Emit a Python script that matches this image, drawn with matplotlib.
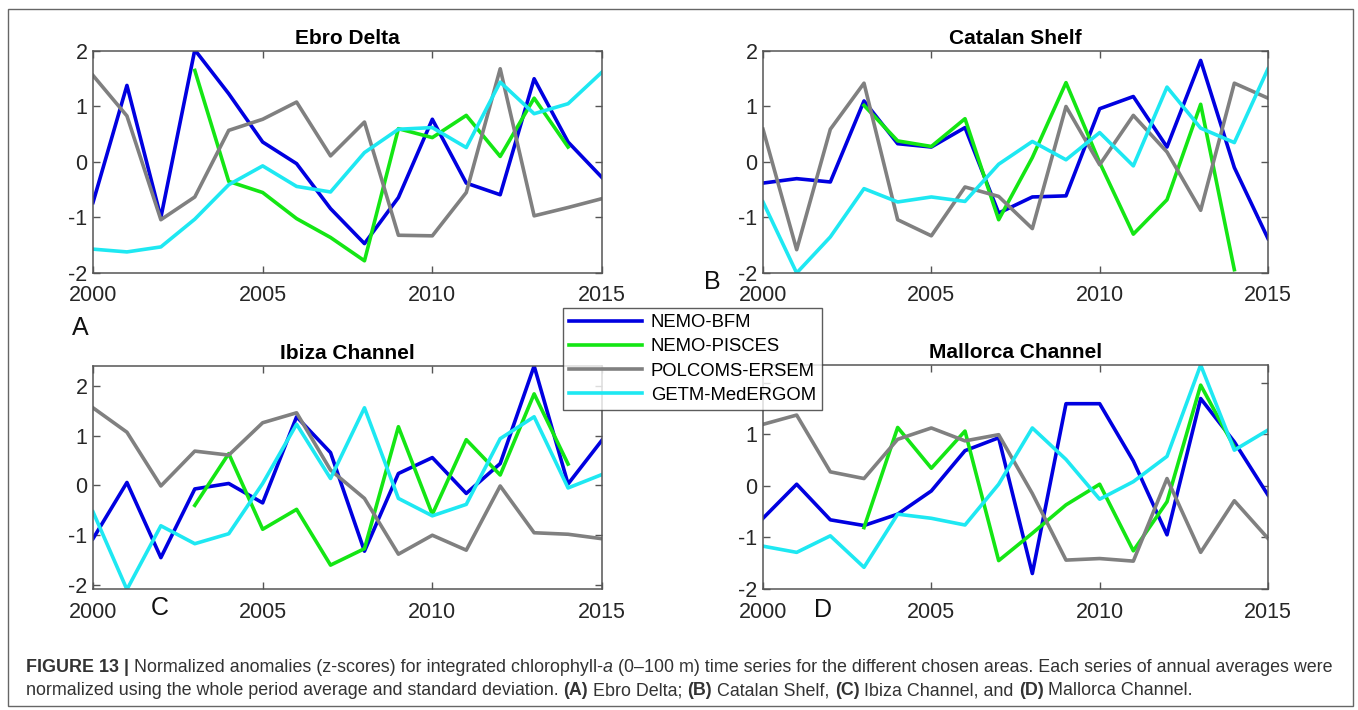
import matplotlib
matplotlib.use('Agg')
import matplotlib.pyplot as plt
from matplotlib import font_manager
from matplotlib.patches import Rectangle
import numpy as np

years = list(range(2000, 2016))
pisces_years = list(range(2003, 2015))

models = ['NEMO-BFM', 'NEMO-PISCES', 'POLCOMS-ERSEM', 'GETM-MedERGOM']
colors = ['#0000e0', '#14e614', '#808080', '#1ee8f2']

# Ebro Delta
ebro_bfm = [-0.73, 1.38, -1.0, 2.02, 1.23, 0.36, -0.03, -0.84, -1.47, -0.64, 0.77, -0.38, -0.59, 1.5, 0.36, -0.28]
ebro_pisces = [1.65, -0.35, -0.55, -1.02, -1.36, -1.78, 0.6, 0.44, 0.84, 0.1, 1.15, 0.27]
ebro_ersem = [1.56, 0.83, -1.04, -0.63, 0.57, 0.77, 1.08, 0.11, 0.72, -1.32, -1.33, -0.55, 1.68, -0.97, -0.82, -0.66]
ebro_ergom = [-1.57, -1.62, -1.53, -1.03, -0.41, -0.07, -0.44, -0.54, 0.17, 0.59, 0.62, 0.26, 1.44, 0.87, 1.05, 1.62]

# Catalan Shelf
catalan_bfm = [-0.38, -0.30, -0.36, 1.10, 0.33, 0.27, 0.62, -0.92, -0.63, -0.61, 0.96, 1.18, 0.27, 1.83, -0.10, -1.38]
catalan_pisces = [1.02, 0.38, 0.28, 0.78, -1.04, 0.08, 1.43, -0.01, -1.30, -0.68, 1.04, -1.94]
catalan_ersem = [0.59, -1.58, 0.59, 1.42, -1.04, -1.33, -0.45, -0.62, -1.2, 1.0, -0.05, 0.84, 0.18, -0.87, 1.42, 1.15]
catalan_ergom = [-0.72, -2.0, -1.35, -0.48, -0.72, -0.63, -0.71, -0.04, 0.37, 0.04, 0.53, -0.07, 1.35, 0.61, 0.35, 1.68]

# Ibiza Channel
ibiza_bfm = [-1.07, 0.06, -1.45, -0.07, 0.04, -0.35, 1.38, 0.66, -1.32, 0.24, 0.56, -0.16, 0.44, 2.4, 0.03, 0.91]
ibiza_pisces = [-0.40, 0.64, -0.88, -0.48, -1.60, -1.27, 1.18, -0.58, 0.92, 0.21, 1.84, 0.43]
ibiza_ersem = [1.56, 1.07, -0.01, 0.69, 0.61, 1.26, 1.46, 0.31, -0.26, -1.38, -1.0, -1.30, -0.01, -0.95, -0.98, -1.07]
ibiza_ergom = [-0.53, -2.09, -0.81, -1.17, -0.97, 0.04, 1.23, 0.14, 1.56, -0.26, -0.61, -0.38, 0.94, 1.38, -0.05, 0.22]

# Mallorca Channel
mallorca_bfm = [-0.63, 0.03, -0.66, -0.77, -0.55, -0.10, 0.68, 0.93, -1.70, 1.59, 1.59, 0.48, -0.95, 1.69, 0.85, -0.18]
mallorca_pisces = [-0.81, 1.13, 0.34, 1.06, -1.45, -0.92, -0.37, 0.03, -1.26, -0.31, 1.95, 0.75]
mallorca_ersem = [1.19, 1.37, 0.27, 0.14, 0.9, 1.12, 0.87, 0.99, -0.15, -1.44, -1.41, -1.46, 0.14, -1.29, -0.29, -1.02]
mallorca_ergom = [-1.17, -1.29, -0.97, -1.58, -0.55, -0.63, -0.76, 0.03, 1.12, 0.51, -0.26, 0.08, 0.57, 2.34, 0.69, 1.08]

titles = ['Ebro Delta', 'Catalan Shelf', 'Ibiza Channel', 'Mallorca Channel']
letters = ['A', 'B', 'C', 'D']
panel_data = [
    (ebro_bfm, ebro_pisces, ebro_ersem, ebro_ergom),
    (catalan_bfm, catalan_pisces, catalan_ersem, catalan_ergom),
    (ibiza_bfm, ibiza_pisces, ibiza_ersem, ibiza_ergom),
    (mallorca_bfm, mallorca_pisces, mallorca_ersem, mallorca_ergom),
]
ylims = [(-2, 2), (-2, 2), (-2.08, 2.4), (-2, 2.34)]
yticks = [-2, -1, 0, 1, 2]

W, H = 1358, 710
plt.rcParams['font.family'] = ['Liberation Sans', 'DejaVu Sans']
plt.rcParams['axes.unicode_minus'] = False

fig = plt.figure(figsize=(W / 100, H / 100), dpi=100)


def px_box(x0, y0, x1, y1):
    return [x0 / W, 1 - y1 / H, (x1 - x0) / W, (y1 - y0) / H]


boxes = [px_box(93, 51, 602, 273), px_box(763, 51, 1268, 273),
         px_box(93, 366, 602, 589), px_box(763, 365, 1268, 589)]

handles = []
for i, (box, series) in enumerate(zip(boxes, panel_data)):
    ax = fig.add_axes(box)
    bfm, pisces, ersem, ergom = series
    lines = []
    lines += ax.plot(years, bfm, color=colors[0], lw=2.6)
    lines += ax.plot(pisces_years, pisces, color=colors[1], lw=2.6)
    lines += ax.plot(years, ersem, color=colors[2], lw=2.6)
    lines += ax.plot(years, ergom, color=colors[3], lw=2.6)
    if i == 0:
        handles = lines
    ax.set_xlim(2000, 2015)
    ax.set_ylim(*ylims[i])
    ax.set_xticks([2000, 2005, 2010, 2015])
    ax.set_yticks(yticks)
    if i == 3:
        # the "2" label sits under the legend in the original
        ax.set_yticklabels([str(t) if t != 2 else '' for t in yticks])
    ax.tick_params(direction='in', length=5, width=1, color='#555555',
                   top=True, right=True, labelsize=15.5, labelcolor='#262626', pad=4)
    ax.tick_params(axis='x', pad=9)
    for sp in ax.spines.values():
        sp.set_color('#555555')
        sp.set_linewidth(1.1)
    ax.set_title(titles[i], fontsize=15, fontweight='bold', pad=5)

letter_pos = [(80, 328), (712, 282), (160, 608), (823, 610)]
for (x, y), letter in zip(letter_pos, letters):
    fig.text(x / W, 1 - y / H, letter, fontsize=18, ha='center', va='center', color='#111111')

leg = fig.legend(handles, models, loc='upper left',
                 bbox_to_anchor=(563 / W, 1 - 308 / H), bbox_transform=fig.transFigure,
                 fontsize=13.3, frameon=True, fancybox=False, edgecolor='#333333',
                 handlelength=3.9, handletextpad=0.5, labelspacing=0.38,
                 borderpad=0.35, borderaxespad=0)
leg.get_frame().set_linewidth(1.0)

# frame around the whole figure
fig.patches.append(Rectangle((8 / W, 1 - 706 / H), (1353 - 8) / W, (706 - 9) / H,
                             transform=fig.transFigure, fill=False,
                             edgecolor='#666666', lw=1.0))

# caption
names = {f.name for f in font_manager.fontManager.ttflist}
cap_font = 'Liberation Sans Narrow' if 'Liberation Sans Narrow' in names else 'Liberation Sans'
cap_color = '#333333'

line1 = [('FIGURE 13 | ', 'bold', 'normal'),
         ('Normalized anomalies (z-scores) for integrated chlorophyll-', 'normal', 'normal'),
         ('a', 'normal', 'italic'),
         (' (0\u2013100 m) time series for the different chosen areas. Each series of annual averages were', 'normal', 'normal')]
line2 = [('normalized using the whole period average and standard deviation. ', 'normal', 'normal'),
         ('(A)', 'bold', 'normal'), (' Ebro Delta; ', 'normal', 'normal'),
         ('(B)', 'bold', 'normal'), (' Catalan Shelf, ', 'normal', 'normal'),
         ('(C)', 'bold', 'normal'), (' Ibiza Channel, and ', 'normal', 'normal'),
         ('(D)', 'bold', 'normal'), (' Mallorca Channel.', 'normal', 'normal')]

renderer = fig.canvas.get_renderer()


def draw_line(parts, x0, y, size):
    x = x0
    artists = []
    for s, weight, style in parts:
        t = fig.text(x / W, 1 - y / H, s, fontsize=size, fontweight=weight, fontstyle=style,
                     family=cap_font, color=cap_color, ha='left', va='baseline')
        bb = t.get_window_extent(renderer)
        x += bb.width
        artists.append(t)
    return artists, x - x0


base = 12
arts, width = draw_line(line1, 26, 672, base)
for a in arts:
    a.remove()
size = base * (1333 - 26) / width
draw_line(line1, 26, 672, size)
draw_line(line2, 26, 695, size)

fig.savefig('out.png', dpi=100)
